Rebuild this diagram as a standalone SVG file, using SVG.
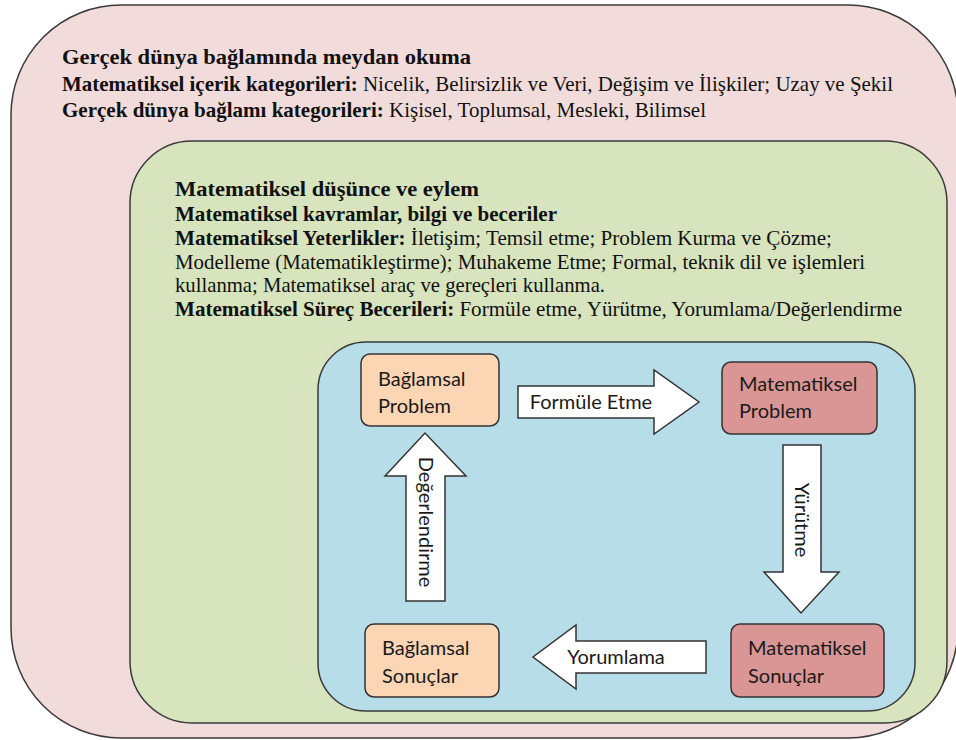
<svg xmlns="http://www.w3.org/2000/svg" width="956" height="740" viewBox="0 0 956 740">
<style>
.frame{stroke:#3a3a3a;stroke-width:1.5}
.serif{font-family:"Liberation Serif","Times New Roman",serif;font-size:21px;fill:#111}
.b{font-weight:bold}
.node{stroke:#333;stroke-width:1.5}
.ntext{font-family:Lato,"Noto Sans",sans-serif;font-size:20px;fill:#1a1a1a}
.arrow{fill:#fff;stroke:#333;stroke-width:1.5;stroke-linejoin:miter}
</style>
<rect width="956" height="740" fill="#fff"/>
<g id="outer">
<rect class="frame" x="11" y="5" width="947" height="733" rx="110" ry="110" fill="#F2DCDB"/>
<text class="serif" x="62" y="64" textLength="409" lengthAdjust="spacingAndGlyphs"><tspan class="b">Gerçek dünya bağlamında meydan okuma</tspan></text>
<text class="serif" x="62" y="91" textLength="831" lengthAdjust="spacingAndGlyphs"><tspan class="b">Matematiksel içerik kategorileri:</tspan> Nicelik, Belirsizlik ve Veri, Değişim ve İlişkiler; Uzay ve Şekil</text>
<text class="serif" x="62" y="117" textLength="644" lengthAdjust="spacingAndGlyphs"><tspan class="b">Gerçek dünya bağlamı kategorileri:</tspan> Kişisel, Toplumsal, Mesleki, Bilimsel</text>
</g>
<g id="middle">
<rect class="frame" x="130" y="141" width="817" height="582" rx="62" ry="62" fill="#D7E4BD"/>
<text class="serif" x="175" y="196" textLength="304" lengthAdjust="spacingAndGlyphs"><tspan class="b">Matematiksel düşünce ve eylem</tspan></text>
<text class="serif" x="175" y="221" textLength="382" lengthAdjust="spacingAndGlyphs"><tspan class="b">Matematiksel kavramlar, bilgi ve beceriler</tspan></text>
<text class="serif" x="175" y="245" textLength="657" lengthAdjust="spacingAndGlyphs"><tspan class="b">Matematiksel Yeterlikler:</tspan> İletişim; Temsil etme; Problem Kurma ve Çözme;</text>
<text class="serif" x="175" y="269" textLength="690" lengthAdjust="spacingAndGlyphs">Modelleme (Matematikleştirme); Muhakeme Etme; Formal, teknik dil ve işlemleri</text>
<text class="serif" x="175" y="292" textLength="430" lengthAdjust="spacingAndGlyphs">kullanma; Matematiksel araç ve gereçleri kullanma.</text>
<text class="serif" x="175" y="316" textLength="727" lengthAdjust="spacingAndGlyphs"><tspan class="b">Matematiksel Süreç Becerileri:</tspan> Formüle etme, Yürütme, Yorumlama/Değerlendirme</text>
</g>
<g id="inner">
<rect class="frame" x="318" y="342" width="597" height="369" rx="48" ry="48" fill="#B7DEE8"/>
</g>
<g id="connectors">
<g id="formule">
<polygon class="arrow" points="518,386 654,386 654,370 699,402 654,434 654,418 518,418"/>
<text class="ntext" x="591" y="409" text-anchor="middle">Formüle Etme</text>
</g>
<g id="yurutme">
<polygon class="arrow" points="783,445 821,445 821,572 839,572 801,613 764,572 783,572"/>
<text class="ntext" transform="translate(795,520) rotate(90)" text-anchor="middle">Yürütme</text>
</g>
<g id="yorumlama">
<polygon class="arrow" points="706,641 576,641 576,625 533,657 576,689 576,673 706,673"/>
<text class="ntext" x="616" y="664" text-anchor="middle">Yorumlama</text>
</g>
<g id="degerlendirme">
<polygon class="arrow" points="406,601 445,601 445,476 466,476 425,433 385,476 406,476"/>
<text class="ntext" transform="translate(419,522) rotate(90)" text-anchor="middle">Değerlendirme</text>
</g>
</g>
<g id="baglamsal-problem">
<rect class="node" x="361" y="354" width="138" height="72" rx="9" fill="#FCD5B5"/>
<text class="ntext" x="378" y="386">Bağlamsal</text>
<text class="ntext" x="378" y="413">Problem</text>
</g>
<g id="matematiksel-problem">
<rect class="node" x="722" y="362" width="155" height="72" rx="9" fill="#D99694"/>
<text class="ntext" x="739" y="391">Matematiksel</text>
<text class="ntext" x="739" y="418">Problem</text>
</g>
<g id="matematiksel-sonuclar">
<rect class="node" x="731" y="624" width="153" height="73" rx="9" fill="#D99694"/>
<text class="ntext" x="748" y="655">Matematiksel</text>
<text class="ntext" x="748" y="683">Sonuçlar</text>
</g>
<g id="baglamsal-sonuclar">
<rect class="node" x="365" y="624" width="134" height="73" rx="9" fill="#FCD5B5"/>
<text class="ntext" x="382" y="655">Bağlamsal</text>
<text class="ntext" x="382" y="683">Sonuçlar</text>
</g>
</svg>
